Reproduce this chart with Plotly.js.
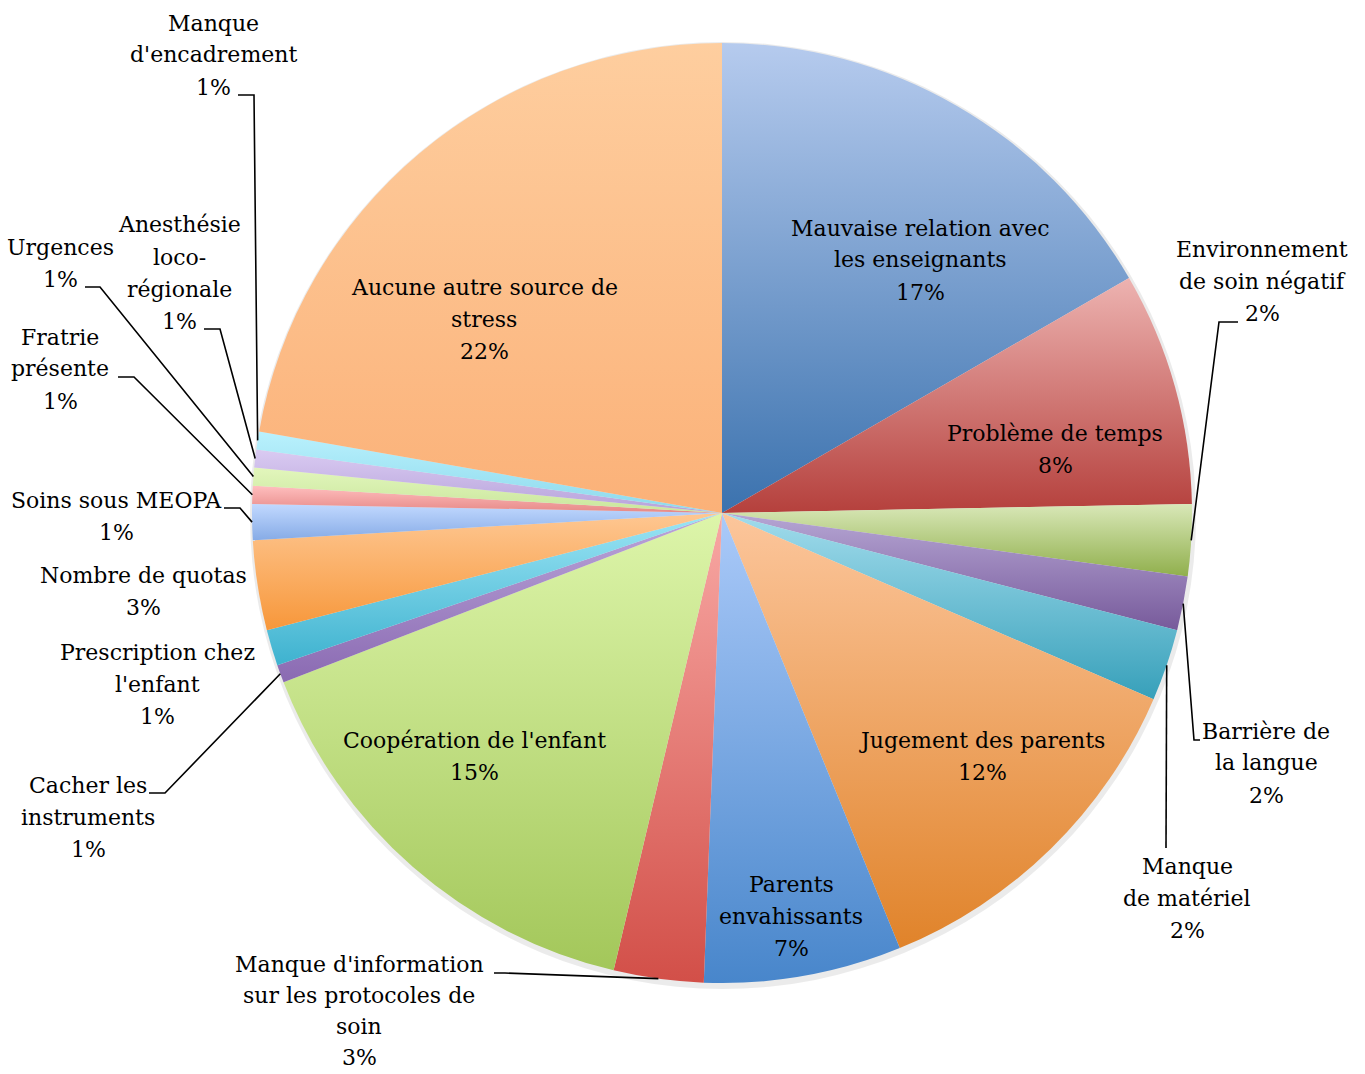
<!DOCTYPE html>
<html><head><meta charset="utf-8">
<script src="https://cdn.plot.ly/plotly-3.0.1.min.js"></script>
<style>html,body{margin:0;padding:0;background:#fff}</style>
</head><body><div id="chart" style="width:1365px;height:1074px"></div>
<script>
// ---- data ----
const categories = [
  "Mauvaise relation avec les enseignants",
  "Problème de temps",
  "Environnement de soin négatif",
  "Barrière de la langue",
  "Manque de matériel",
  "Jugement des parents",
  "Parents envahissants",
  "Manque d'information sur les protocoles de soin",
  "Coopération de l'enfant",
  "Cacher les instruments",
  "Prescription chez l'enfant",
  "Nombre de quotas",
  "Soins sous MEOPA",
  "Fratrie présente",
  "Urgences",
  "Anesthésie loco-régionale",
  "Manque d'encadrement",
  "Aucune autre source de stress"
];
const counts = [27, 13, 4, 3, 4, 20, 11, 5, 25, 1, 2, 5, 2, 1, 1, 1, 1, 36];
// wrapped display lines of each label
const labelLines = [
  ["Mauvaise relation avec", "les enseignants"],
  ["Problème de temps"],
  ["Environnement", "de soin négatif"],
  ["Barrière de", "la langue"],
  ["Manque", "de matériel"],
  ["Jugement des parents"],
  ["Parents", "envahissants"],
  ["Manque d'information", "sur les protocoles de", "soin"],
  ["Coopération de l'enfant"],
  ["Cacher les", "instruments"],
  ["Prescription chez", "l'enfant"],
  ["Nombre de quotas"],
  ["Soins sous MEOPA"],
  ["Fratrie", "présente"],
  ["Urgences"],
  ["Anesthésie", "loco-", "régionale"],
  ["Manque", "d'encadrement"],
  ["Aucune autre source de", "stress"]
];
const colorsMid = ["#7fa2d2","#d47673","#b6cc86","#9782b8","#6cbfd3","#efa766","#78a7e2","#e57a74","#c1de85","#a286c6","#6ccbe2","#fbae66","#a4c3f4","#f4a4a3","#d7efae","#c8b6e6","#a6e6f5","#fcc08c"];
const colorsTop = ["#b6cbee","#edb3b1","#d9e8b8","#b6a6d4","#a2dcec","#fcc69c","#abcaf9","#f8a8a4","#ddf5aa","#bca6da","#9ce5f5","#fec792","#c2d9ff","#ffbfbf","#e2f6bc","#dacbf2","#baf1fd","#fece9f"];
const colorsBottom = ["#3b72ae","#b5403c","#90af4c","#775a9b","#37a0ba","#e0832a","#4886cb","#d24f48","#a3c75a","#8a6ab2","#3eb2cf","#f7973a","#86abe6","#e68886","#c9e69c","#b6a2da","#8cd9ec","#fbb178"];

// ---- layout geometry (pixels) ----
const W = 1365, H = 1074;
const CX = 722, CY = 513, R = 470;
const LINE = 32;
const labelPos = [
  {x: 920, y: 228}, {x: 1055, y: 433}, {x: 1262, y: 249}, {x: 1266, y: 731},
  {x: 1187, y: 866}, {x: 982, y: 740}, {x: 791, y: 884}, {x: 359, y: 964, lh: 31},
  {x: 474, y: 740}, {x: 88, y: 785}, {x: 157, y: 652}, {x: 143, y: 575},
  {x: 116, y: 500}, {x: 60, y: 337}, {x: 60, y: 247}, {x: 179, y: 225},
  {x: 213, y: 23}, {x: 484, y: 287}
];
// leader lines: index -> starting polyline points (text side), ends at slice edge
const leaders = {
  2: [[1238, 322], [1219, 322]],
  3: [[1200, 740], [1194, 740]],
  4: [[1166, 848]],
  7: [[494, 973], [505, 973]],
  9: [[149, 793], [165, 793]],
  12: [[224, 508], [240, 508]],
  13: [[118, 377], [134, 377]],
  14: [[85, 287], [100, 287]],
  15: [[204, 329], [220, 329]],
  16: [[238, 95], [254, 95]]
};

const px = x => x / W;
const py = y => 1 - y / H;
const total = counts.reduce((a, b) => a + b, 0);
const pctText = counts.map(c => Math.round(100 * c / total) + '%');

const annotations = [];
labelLines.forEach((lines, i) => {
  const all = lines.concat([pctText[i]]);
  const lh = labelPos[i].lh || LINE;
  all.forEach((t, k) => {
    annotations.push({
      xref: 'paper', yref: 'paper', x: px(labelPos[i].x), y: py(labelPos[i].y + k * lh),
      xanchor: 'center', yanchor: 'middle', showarrow: false, text: t,
      font: {family: 'DejaVu Serif', size: 22, color: '#000'}
    });
  });
});

// slice mid angles (clockwise from 12 o'clock) from the data
const shapes = [];
shapes.push({type: 'circle', xref: 'paper', yref: 'paper', layer: 'below',
  x0: px(CX - R - 2), x1: px(CX + R + 4), y0: py(CY + R + 6), y1: py(CY - R - 1),
  fillcolor: 'rgba(0,0,0,0.08)', line: {width: 0}});
let cum = 0;
counts.forEach((c, i) => {
  const mid = (cum + c / 2) / total * 2 * Math.PI;
  cum += c;
  if (leaders[i]) {
    const ex = CX + R * Math.sin(mid), ey = CY - R * Math.cos(mid);
    const pts = leaders[i].concat([[ex, ey]]);
    const path = pts.map((p, k) => (k ? 'L ' : 'M ') + px(p[0]).toFixed(5) + ' ' + py(p[1]).toFixed(5)).join(' ');
    shapes.push({type: 'path', xref: 'paper', yref: 'paper', path: path, line: {color: '#000', width: 1.6}});
  }
});

const trace = {
  type: 'pie',
  labels: categories,
  values: counts,
  sort: false,
  direction: 'clockwise',
  rotation: 0,
  textinfo: 'none',
  hoverinfo: 'skip',
  marker: {colors: colorsMid, line: {width: 0}},
  domain: {x: [px(CX - R), px(CX + R)], y: [py(CY + R), py(CY - R)]},
  showlegend: false
};

const layout = {
  width: W, height: H,
  margin: {l: 0, r: 0, t: 0, b: 0},
  paper_bgcolor: '#fff',
  showlegend: false,
  annotations: annotations,
  shapes: shapes
};

Plotly.newPlot('chart', [trace], layout, {displayModeBar: false, staticPlot: true}).then(gd => {
  // vertical gradient fill of each slice (light top, darker bottom)
  const svg = gd.querySelector('svg.main-svg');
  const NS = 'http://www.w3.org/2000/svg';
  let defs = svg.querySelector('defs');
  if (!defs) { defs = document.createElementNS(NS, 'defs'); svg.insertBefore(defs, svg.firstChild); }
  const paths = gd.querySelectorAll('g.slice path.surface');
  paths.forEach((p, i) => {
    const g = document.createElementNS(NS, 'linearGradient');
    g.setAttribute('id', 'sliceGrad' + i);
    g.setAttribute('x1', '0'); g.setAttribute('y1', '0');
    g.setAttribute('x2', '0'); g.setAttribute('y2', '1');
    [[0, colorsTop[i]], [1, colorsBottom[i]]].forEach(s => {
      const st = document.createElementNS(NS, 'stop');
      st.setAttribute('offset', s[0]);
      st.setAttribute('stop-color', s[1]);
      g.appendChild(st);
    });
    defs.appendChild(g);
    p.style.fill = 'url(#sliceGrad' + i + ')';
  });
});
</script>
</body></html>
